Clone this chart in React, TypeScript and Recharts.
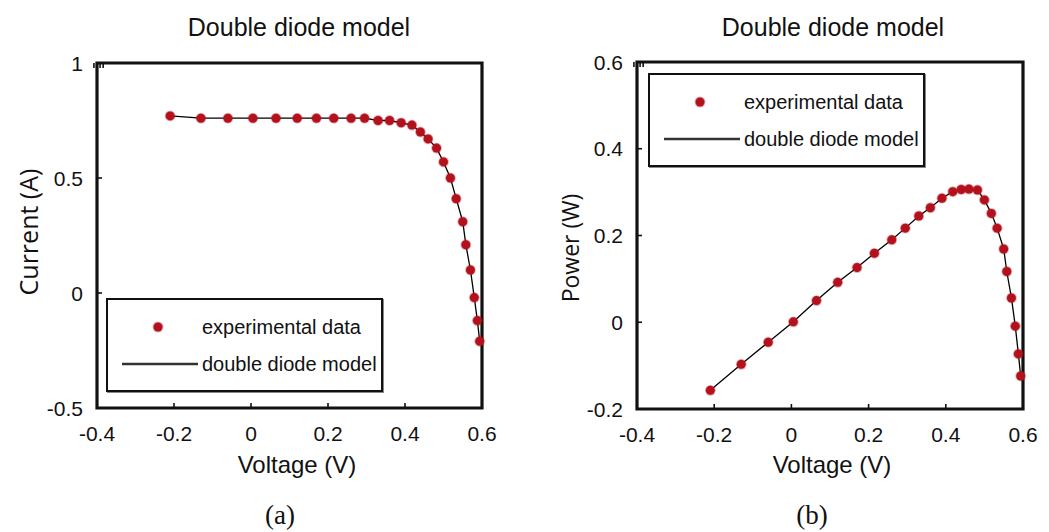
import { ComposedChart, Line, Scatter, XAxis, YAxis, ReferenceArea } from "recharts";

// measured operating points (shared by both panels)
const voltage = [
  -0.21, -0.13, -0.06, 0.005, 0.065, 0.12, 0.17, 0.215, 0.26, 0.295, 0.33, 0.36, 0.39,
  0.418, 0.44, 0.46, 0.482, 0.5, 0.518, 0.533, 0.55, 0.558, 0.57, 0.58, 0.588, 0.594,
];
const current = [
  0.77, 0.76, 0.76, 0.76, 0.76, 0.76, 0.76, 0.76, 0.76, 0.76, 0.75, 0.75, 0.74, 0.73,
  0.7, 0.67, 0.63, 0.57, 0.5, 0.41, 0.31, 0.21, 0.1, -0.02, -0.12, -0.21,
];
const power = [
  -0.157, -0.097, -0.046, 0.001, 0.05, 0.092, 0.126, 0.159, 0.19, 0.217, 0.245, 0.264,
  0.286, 0.301, 0.306, 0.307, 0.305, 0.282, 0.251, 0.217, 0.169, 0.117, 0.056, -0.009,
  -0.073, -0.124,
];

const voltageTicks = [-0.4, -0.2, 0, 0.2, 0.4, 0.6];
const currentTicks = [-0.5, 0, 0.5, 1];
const powerTicks = [-0.2, 0, 0.2, 0.4, 0.6];

const TITLE = "Double diode model";
const LEGEND_DATA = "experimental data";
const LEGEND_MODEL = "double diode model";

const currentRows = voltage.map((v, i) => ({ v, y: current[i] }));
const powerRows = voltage.map((v, i) => ({ v, y: power[i] }));

const DOT = "#b3121c";
const INK = "#111";
const sans = "'Liberation Sans', Arial, sans-serif";
const TICK = 5;
const BOTTOM_GAP = 17;
const LEFT_GAP = 14;

const inner = (list: number[]) => list.slice(1, -1);
const isEdge = (list: number[], v: number) => v === list[0] || v === list[list.length - 1];

const RedDot = (props: any) => {
  const { cx, cy } = props;
  if (cx == null || cy == null) return null;
  return (
    <g>
      <circle cx={cx} cy={cy} r={5.4} fill={DOT} opacity={0.35} />
      <circle cx={cx} cy={cy} r={4.5} fill={DOT} />
    </g>
  );
};

// inward MATLAB-style ticks, drawn together with their labels
const BottomTick = (props: any) => {
  const { x, y, payload } = props;
  const axisY = y - BOTTOM_GAP;
  return (
    <g>
      {!isEdge(voltageTicks, payload.value) && (
        <line x1={x} x2={x} y1={axisY} y2={axisY - TICK} stroke={INK} strokeWidth={1.6} />
      )}
      <text x={x} y={y} dy="0.75em" textAnchor="middle" fill={INK} fontSize={21} fontFamily={sans}>
        {payload.value}
      </text>
    </g>
  );
};
const makeLeftTick = (list: number[]) => (props: any) => {
  const { x, y, payload } = props;
  const axisX = x + LEFT_GAP;
  return (
    <g>
      {!isEdge(list, payload.value) && (
        <line x1={axisX} x2={axisX + TICK} y1={y} y2={y} stroke={INK} strokeWidth={1.6} />
      )}
      <text x={x} y={y} dy="0.36em" textAnchor="end" fill={INK} fontSize={21} fontFamily={sans}>
        {payload.value}
      </text>
    </g>
  );
};
const TopTick = (props: any) => {
  const { x, y } = props;
  return <line x1={x} x2={x} y1={y} y2={y + TICK} stroke={INK} strokeWidth={1.6} />;
};
const RightTick = (props: any) => {
  const { x, y } = props;
  return <line x1={x} x2={x - TICK} y1={y} y2={y} stroke={INK} strokeWidth={1.6} />;
};

interface PanelProps {
  rows: { v: number; y: number }[];
  yTicks: number[];
  yDomain: [number, number];
  margin: { top: number; right: number; bottom: number; left: number };
}

const Panel = ({ rows, yTicks, yDomain, margin }: PanelProps) => {
  const LeftTick = makeLeftTick(yTicks);
  return (
    <ComposedChart width={500} height={470} data={rows} margin={margin}>
      <XAxis
        type="number"
        dataKey="v"
        domain={[-0.4, 0.6]}
        ticks={voltageTicks}
        height={40}
        tickSize={0}
        tickMargin={BOTTOM_GAP}
        axisLine={false}
        tickLine={false}
        tick={<BottomTick />}
        interval={0}
      />
      <XAxis
        xAxisId="top"
        orientation="top"
        type="number"
        domain={[-0.4, 0.6]}
        ticks={inner(voltageTicks)}
        height={1}
        tickSize={0}
        tickMargin={0}
        axisLine={false}
        tickLine={false}
        tick={<TopTick />}
        interval={0}
      />
      <YAxis
        type="number"
        domain={yDomain}
        ticks={yTicks}
        width={60}
        tickSize={0}
        tickMargin={LEFT_GAP}
        axisLine={false}
        tickLine={false}
        tick={<LeftTick />}
        interval={0}
      />
      <YAxis
        yAxisId="right"
        orientation="right"
        type="number"
        domain={yDomain}
        ticks={inner(yTicks)}
        width={1}
        tickSize={0}
        tickMargin={0}
        axisLine={false}
        tickLine={false}
        tick={<RightTick />}
        interval={0}
      />
      <ReferenceArea
        x1={-0.4}
        x2={0.6}
        y1={yDomain[0]}
        y2={yDomain[1]}
        fill="none"
        stroke={INK}
        strokeWidth={3.2}
        ifOverflow="visible"
      />
      <Scatter dataKey="y" shape={<RedDot />} isAnimationActive={false} />
      <Line
        type="linear"
        dataKey="y"
        stroke="#000"
        strokeWidth={1.3}
        dot={false}
        activeDot={false}
        isAnimationActive={false}
      />
    </ComposedChart>
  );
};

const Legend = ({ left, top }: { left: number; top: number }) => (
  <div
    style={{
      position: "absolute",
      left,
      top,
      width: 273,
      height: 90,
      border: `2.5px solid ${INK}`,
      boxShadow: "1px 1px 0 #888",
      background: "#fff",
      fontFamily: sans,
      fontSize: 20,
      color: INK,
    }}
  >
    <svg width={90} height={90} style={{ position: "absolute", left: 0, top: 0 }}>
      <circle cx={50} cy={27} r={5.5} fill={DOT} opacity={0.35} />
      <circle cx={50} cy={27} r={4.5} fill={DOT} />
      <line x1={14} x2={90} y1={64} y2={64} stroke="#333" strokeWidth={2.5} />
    </svg>
    <div style={{ position: "absolute", left: 94, top: 15, lineHeight: "24px" }}>{LEGEND_DATA}</div>
    <div style={{ position: "absolute", left: 94, top: 52, lineHeight: "24px" }}>{LEGEND_MODEL}</div>
  </div>
);

const text = (content: string, x: number, y: number, size: number, family = sans) => (
  <div
    style={{
      position: "absolute",
      left: x - 200,
      top: y - size,
      width: 400,
      height: size * 2,
      lineHeight: `${size * 2}px`,
      textAlign: "center",
      fontSize: size,
      fontFamily: family,
      color: INK,
      whiteSpace: "nowrap",
    }}
  >
    {content}
  </div>
);

const vText = (content: string, x: number, y: number, size: number) => (
  <div
    style={{
      position: "absolute",
      left: x - 100,
      top: y - size,
      width: 200,
      height: size * 2,
      lineHeight: `${size * 2}px`,
      textAlign: "center",
      fontSize: size,
      fontFamily: "'Open Sans', sans-serif",
      color: INK,
      whiteSpace: "nowrap",
      transform: "rotate(-90deg)",
    }}
  >
    {content}
  </div>
);

export default function App() {
  return (
    <div
      style={{
        position: "absolute",
        left: 0,
        top: 0,
        width: 1049,
        height: 532,
        background: "#fff",
        overflow: "hidden",
      }}
    >
      <div style={{ position: "absolute", left: 0, top: 0 }}>
        <Panel
          rows={currentRows}
          yTicks={currentTicks}
          yDomain={[-0.5, 1]}
          margin={{ top: 62, right: 17, bottom: 22, left: 37 }}
        />
      </div>
      <div style={{ position: "absolute", left: 540, top: 0 }}>
        <Panel
          rows={powerRows}
          yTicks={powerTicks}
          yDomain={[-0.2, 0.6]}
          margin={{ top: 61, right: 16, bottom: 21, left: 37 }}
        />
      </div>
      <Legend left={106} top={298} />
      <Legend left={648} top={73} />

      {text(TITLE, 299, 27, 25)}
      {text(TITLE, 833, 27, 25)}
      {text("Voltage (V)", 297, 465, 24)}
      {text("Voltage (V)", 832, 465, 24)}
      {text("(a)", 280, 515, 27, "'Liberation Serif', serif")}
      {text("(b)", 812, 515, 27, "'Liberation Serif', serif")}
      {vText("Current (A)", 28, 232, 25)}
      {vText("Power (W)", 570, 248, 23)}
    </div>
  );
}
